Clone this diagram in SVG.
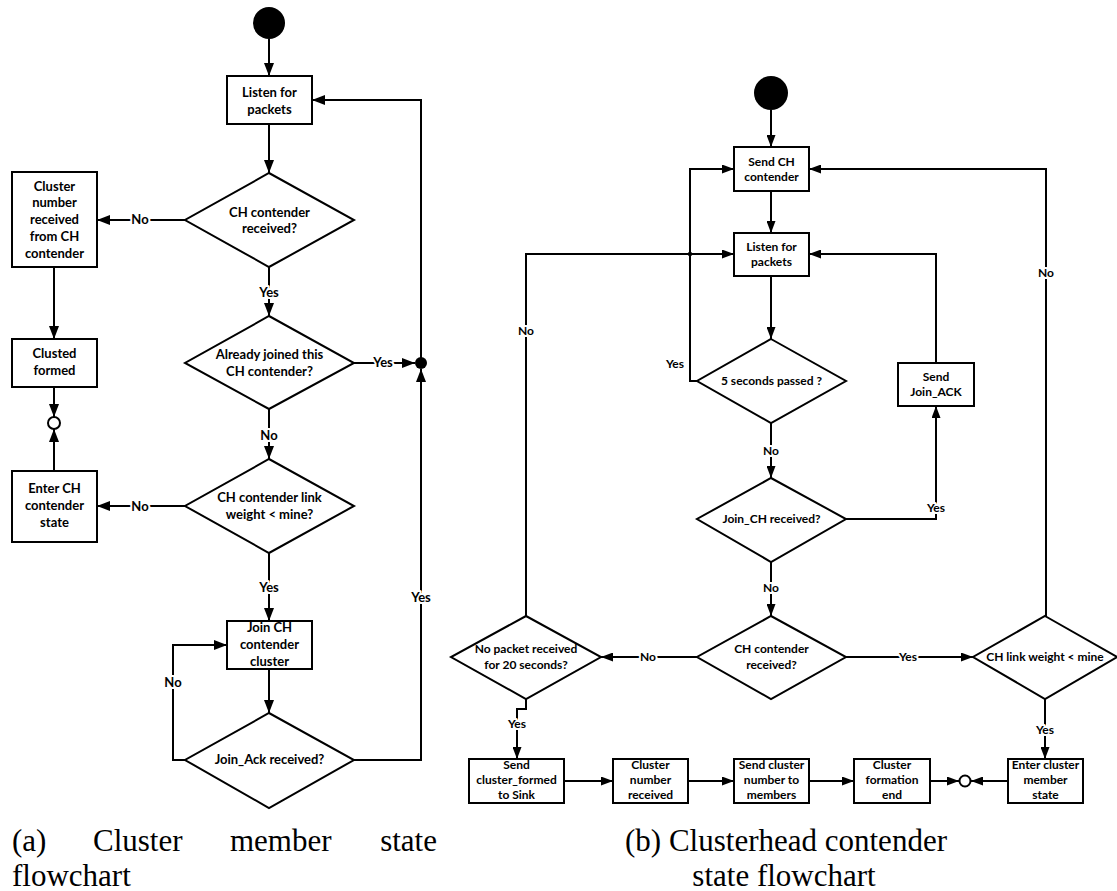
<svg xmlns="http://www.w3.org/2000/svg" width="1117" height="891" viewBox="0 0 1117 891">
<style>
.bg{fill:#fff}
.n{fill:#fff;stroke:#000;stroke-width:2}
.c{fill:none;stroke:#000;stroke-width:2}
.t{font-family:Lato,"Liberation Sans",sans-serif;font-weight:bold;font-size:13px;text-anchor:middle;fill:#000}
.r{font-size:12px}
.lb{font-family:Lato,"Liberation Sans",sans-serif;font-weight:bold;font-size:13px;text-anchor:middle;fill:#000;stroke:#fff;stroke-width:4;paint-order:stroke;stroke-linejoin:round}
.lr{font-size:12px}
.cap{font-family:"Liberation Serif","Times New Roman",serif;font-size:31px;fill:#000}
</style>
<defs>
<marker id="a" markerUnits="userSpaceOnUse" markerWidth="13" markerHeight="10" refX="13" refY="5" orient="auto">
<path d="M0,0 L13,5 L0,10 z" fill="#000"/>
</marker>
<marker id="s" markerUnits="userSpaceOnUse" markerWidth="12" markerHeight="9" refX="12" refY="4.5" orient="auto">
<path d="M0,0 L12,4.5 L0,9 z" fill="#000"/>
</marker>
</defs>
<rect class="bg" x="0" y="0" width="1117" height="891"/>

<g id="connectors">
<!-- left chart -->
<path class="c" d="M269,39 V76" marker-end="url(#a)"/>
<path class="c" d="M269,124 V173" marker-end="url(#a)"/>
<path class="c" d="M185,220 H97" marker-end="url(#a)"/>
<path class="c" d="M54,267 V339" marker-end="url(#a)"/>
<path class="c" d="M269,267 V316" marker-end="url(#a)"/>
<path class="c" d="M354,363 H415" marker-end="url(#a)"/>
<path class="c" d="M54,387 V417" marker-end="url(#a)"/>
<path class="c" d="M54,471 V429" marker-end="url(#a)"/>
<path class="c" d="M269,409 V459" marker-end="url(#a)"/>
<path class="c" d="M185,506 H97" marker-end="url(#a)"/>
<path class="c" d="M269,553 V621" marker-end="url(#a)"/>
<path class="c" d="M269,669 V713" marker-end="url(#a)"/>
<path class="c" d="M185,760 H173 V645 H227" marker-end="url(#a)"/>
<path class="c" d="M354,760 H421 V369" marker-end="url(#a)"/>
<path class="c" d="M421,363 V100 H312" marker-end="url(#a)"/>
<circle cx="421" cy="363" r="6" fill="#000"/>
<circle cx="54" cy="423" r="6" fill="#fff" stroke="#000" stroke-width="2"/>
<text class="lb" x="140" y="224">No</text>
<text class="lb" x="269" y="297">Yes</text>
<text class="lb" x="383" y="367">Yes</text>
<text class="lb" x="269" y="440">No</text>
<text class="lb" x="140" y="511">No</text>
<text class="lb" x="269" y="592">Yes</text>
<text class="lb" x="173" y="687">No</text>
<text class="lb" x="421" y="602">Yes</text>

<!-- right chart -->
<path class="c" d="M771,110 V147" marker-end="url(#s)"/>
<path class="c" d="M771,191 V233" marker-end="url(#s)"/>
<path class="c" d="M771,276 V339" marker-end="url(#s)"/>
<path class="c" d="M697,381 H690 V169 H734" marker-end="url(#s)"/>
<path class="c" d="M526,616 V254 H734" marker-end="url(#s)"/>
<circle cx="690" cy="254" r="2.2" fill="#000"/>
<path class="c" d="M1046,616 V169 H809" marker-end="url(#s)"/>
<path class="c" d="M771,423 V478" marker-end="url(#s)"/>
<path class="c" d="M846,519 H936 V406" marker-end="url(#s)"/>
<path class="c" d="M936,363 V254 H809" marker-end="url(#s)"/>
<path class="c" d="M771,562 V616" marker-end="url(#s)"/>
<path class="c" d="M697,657 H601" marker-end="url(#s)"/>
<path class="c" d="M846,657 H973" marker-end="url(#s)"/>
<path class="c" d="M526,699 V709 H517 V759" marker-end="url(#s)"/>
<path class="c" d="M1045,699 V759" marker-end="url(#s)"/>
<path class="c" d="M564,781 H613" marker-end="url(#s)"/>
<path class="c" d="M688,781 H734" marker-end="url(#s)"/>
<path class="c" d="M809,781 H854" marker-end="url(#s)"/>
<path class="c" d="M930,781 H959" marker-end="url(#s)"/>
<path class="c" d="M1008,781 H971" marker-end="url(#s)"/>
<circle cx="965" cy="781" r="5.5" fill="#fff" stroke="#000" stroke-width="2"/>
<text class="t r" x="675" y="368">Yes</text>
<text class="lb lr" x="526" y="335">No</text>
<text class="lb lr" x="1046" y="277">No</text>
<text class="lb lr" x="771" y="455">No</text>
<text class="lb lr" x="936" y="512">Yes</text>
<text class="lb lr" x="771" y="592">No</text>
<text class="lb lr" x="648" y="661">No</text>
<text class="lb lr" x="908" y="661">Yes</text>
<text class="lb lr" x="517" y="728">Yes</text>
<text class="lb lr" x="1045" y="734">Yes</text>
</g>

<!-- left chart nodes -->
<g id="a-start"><circle cx="269" cy="23" r="16" fill="#000"/></g>
<g id="a-listen">
<rect class="n" x="227" y="76" width="85" height="48"/>
<text class="t" x="269.5" y="97">Listen for</text>
<text class="t" x="269.5" y="114">packets</text>
</g>
<g id="a-ch-received">
<polygon class="n" points="269,173 354,220 269,267 185,220"/>
<text class="t" x="269.5" y="217">CH contender</text>
<text class="t" x="269.5" y="233">received?</text>
</g>
<g id="a-cluster-number">
<rect class="n" x="12" y="172" width="85" height="95"/>
<text class="t" x="54.5" y="191">Cluster</text>
<text class="t" x="54.5" y="207">number</text>
<text class="t" x="54.5" y="224">received</text>
<text class="t" x="54.5" y="241">from CH</text>
<text class="t" x="54.5" y="258">contender</text>
</g>
<g id="a-already-joined">
<polygon class="n" points="269,316 354,363 269,409 185,363"/>
<text class="t" x="269.5" y="359">Already joined this</text>
<text class="t" x="269.5" y="376">CH contender?</text>
</g>
<g id="a-clusted-formed">
<rect class="n" x="12" y="339" width="85" height="48"/>
<text class="t" x="54.5" y="358">Clusted</text>
<text class="t" x="54.5" y="375">formed</text>
</g>
<g id="a-enter-ch">
<rect class="n" x="12" y="471" width="85" height="71"/>
<text class="t" x="54.5" y="493">Enter CH</text>
<text class="t" x="54.5" y="510">contender</text>
<text class="t" x="54.5" y="527">state</text>
</g>
<g id="a-link-weight">
<polygon class="n" points="269,459 354,506 269,553 185,506"/>
<text class="t" x="269.5" y="502">CH contender link</text>
<text class="t" x="269.5" y="519">weight &lt; mine?</text>
</g>
<g id="a-join-ch">
<rect class="n" x="227" y="621" width="85" height="48"/>
<text class="t" x="269.5" y="632">Join CH</text>
<text class="t" x="269.5" y="649">contender</text>
<text class="t" x="269.5" y="666">cluster</text>
</g>
<g id="a-join-ack">
<polygon class="n" points="269,713 354,760 269,808 185,760"/>
<text class="t" x="269.5" y="764">Join_Ack received?</text>
</g>

<!-- right chart nodes -->
<g id="b-start"><circle cx="771" cy="93" r="17" fill="#000"/></g>
<g id="b-send-ch">
<rect class="n" x="734" y="147" width="75" height="44"/>
<text class="t r" x="771.5" y="166">Send CH</text>
<text class="t r" x="771.5" y="181">contender</text>
</g>
<g id="b-listen">
<rect class="n" x="734" y="233" width="75" height="43"/>
<text class="t r" x="771.5" y="251">Listen for</text>
<text class="t r" x="771.5" y="266">packets</text>
</g>
<g id="b-5sec">
<polygon class="n" points="771,339 846,381 771,423 697,381"/>
<text class="t r" x="771.5" y="385">5 seconds passed ?</text>
</g>
<g id="b-send-joinack">
<rect class="n" x="898" y="363" width="76" height="43"/>
<text class="t r" x="936" y="381">Send</text>
<text class="t r" x="936" y="396">Join_ACK</text>
</g>
<g id="b-joinch-received">
<polygon class="n" points="771,478 846,519 771,562 697,519"/>
<text class="t r" x="771.5" y="523">Join_CH received?</text>
</g>
<g id="b-ch-received">
<polygon class="n" points="771,616 846,657 771,699 697,657"/>
<text class="t r" x="771.5" y="653">CH contender</text>
<text class="t r" x="771.5" y="669">received?</text>
</g>
<g id="b-no-packet">
<polygon class="n" points="526,616 601,657 526,699 451,657"/>
<text class="t r" x="526" y="653">No packet received</text>
<text class="t r" x="526" y="669">for 20 seconds?</text>
</g>
<g id="b-link-weight">
<polygon class="n" points="1045,616 1117,657 1045,699 973,657"/>
<text class="t r" x="1045" y="661">CH link weight &lt; mine</text>
</g>
<g id="b-send-formed">
<rect class="n" x="469" y="759" width="95" height="44"/>
<text class="t r" x="516.5" y="769">Send</text>
<text class="t r" x="516.5" y="784">cluster_formed</text>
<text class="t r" x="516.5" y="799">to Sink</text>
</g>
<g id="b-number-received">
<rect class="n" x="613" y="759" width="75" height="44"/>
<text class="t r" x="650.5" y="769">Cluster</text>
<text class="t r" x="650.5" y="784">number</text>
<text class="t r" x="650.5" y="799">received</text>
</g>
<g id="b-send-number">
<rect class="n" x="734" y="759" width="75" height="44"/>
<text class="t r" x="771.5" y="769">Send cluster</text>
<text class="t r" x="771.5" y="784">number to</text>
<text class="t r" x="771.5" y="799">members</text>
</g>
<g id="b-formation-end">
<rect class="n" x="854" y="759" width="76" height="44"/>
<text class="t r" x="892" y="769">Cluster</text>
<text class="t r" x="892" y="784">formation</text>
<text class="t r" x="892" y="799">end</text>
</g>
<g id="b-enter-member">
<rect class="n" x="1008" y="759" width="75" height="44"/>
<text class="t r" x="1045.5" y="769">Enter cluster</text>
<text class="t r" x="1045.5" y="784">member</text>
<text class="t r" x="1045.5" y="799">state</text>
</g>

<!-- captions -->
<g id="captions">
<text class="cap" x="12" y="851">(a)</text>
<text class="cap" x="93" y="851">Cluster</text>
<text class="cap" x="230" y="851">member</text>
<text class="cap" x="437" y="851" text-anchor="end">state</text>
<text class="cap" x="12" y="886">flowchart</text>
<text class="cap" x="786" y="851" text-anchor="middle">(b) Clusterhead contender</text>
<text class="cap" x="784" y="886" text-anchor="middle">state flowchart</text>
</g>
</svg>
